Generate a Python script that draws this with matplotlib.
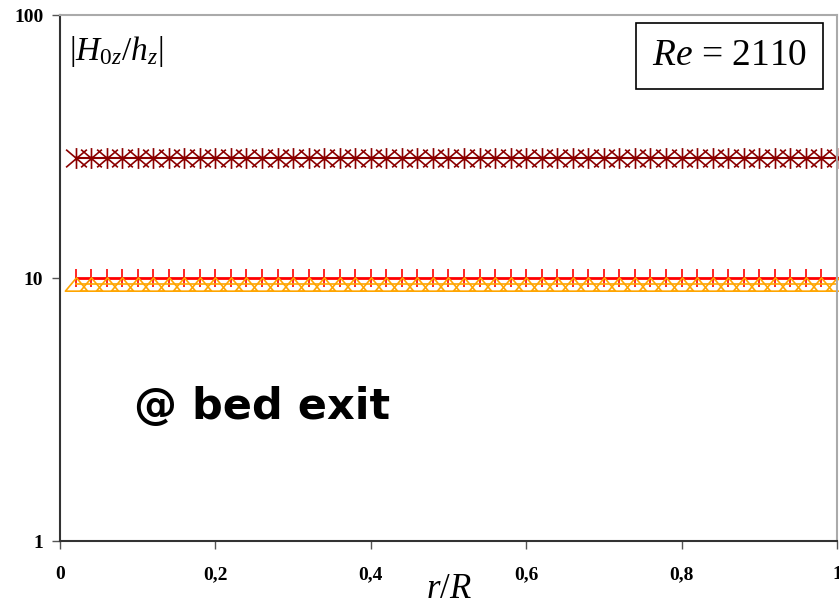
import numpy as np
import matplotlib
matplotlib.use("Agg")
import matplotlib.pyplot as plt
from matplotlib.path import Path

plt.rcParams['mathtext.fontset'] = 'custom'
plt.rcParams['mathtext.rm'] = 'Liberation Serif'
plt.rcParams['mathtext.it'] = 'Liberation Serif:italic'
plt.rcParams['mathtext.bf'] = 'Liberation Serif:bold'

# radial positions r/R
r = [round(0.02 * i, 2) for i in range(1, 51)]
# amplitude ratios |H0z/hz| for the three cases
star_vals = [28.7] * 50
plus_vals = [10.0] * 50
tri_vals = [9.5] * 50

x_ticks = [0, 0.2, 0.4, 0.6, 0.8, 1.0]
x_tick_labels = ['0', '0,2', '0,4', '0,6', '0,8', '1']
y_ticks = [1, 10, 100]
y_tick_labels = ['1', '10', '100']

# asterisk marker: a cross with a vertical bar
star = Path([(-1, -0.85), (1, 0.85), (-1, 0.85), (1, -0.85), (0, -1), (0, 1)],
            [Path.MOVETO, Path.LINETO, Path.MOVETO, Path.LINETO, Path.MOVETO, Path.LINETO])
# wide open triangle
tri = Path([(-1, -0.6), (1, -0.6), (0, 0.6), (-1, -0.6)],
           [Path.MOVETO, Path.LINETO, Path.LINETO, Path.CLOSEPOLY])

fig = plt.figure(figsize=(8.39, 6.04), dpi=100)
ax = fig.add_axes([0.0715, 0.1043, 0.926, 0.8707])

ax.plot(r, star_vals, color='#8B0000', lw=1.5, marker=star, ms=15, mew=1.2, clip_on=False)
ax.plot(r, plus_vals, color='#FF0000', lw=2, marker='|', ms=13, mew=1.2, clip_on=False)
ax.plot(r, tri_vals, color='#FFA500', lw=1.2, marker=tri, ms=16, mfc='none', mec='#FFA500', mew=1.2, clip_on=False)

ax.set_yscale('log')
ax.set_xlim(0, 1)
ax.set_ylim(1, 100)
ax.set_xticks(x_ticks)
ax.set_xticklabels(x_tick_labels)
ax.set_yticks(y_ticks)
ax.set_yticklabels(y_tick_labels)
ax.yaxis.set_minor_locator(matplotlib.ticker.NullLocator())
for lab in ax.get_xticklabels() + ax.get_yticklabels():
    lab.set_fontfamily('Liberation Serif')
    lab.set_fontweight('bold')
    lab.set_fontsize(14)
ax.tick_params(axis='x', direction='out', length=6, width=1, pad=12, color='#555555')
ax.tick_params(axis='y', direction='out', length=6, width=1, pad=6, color='#555555')

for s in ['left', 'bottom']:
    ax.spines[s].set_color('#333333')
    ax.spines[s].set_linewidth(1.5)
for s in ['top', 'right']:
    ax.spines[s].set_color('#AAAAAA')
    ax.spines[s].set_linewidth(1.5)

ax.set_xlabel(r'$r/R$', fontsize=25, labelpad=-9)
ax.text(0.012, 0.93, r'$\mathrm{|}H_{\mathrm{0}z}/h_z\mathrm{|}$', transform=ax.transAxes,
        fontsize=24, ha='left', va='center')
ax.text(0.862, 0.922, r'$Re$ = 2110', transform=ax.transAxes, fontsize=27,
        fontfamily='Liberation Serif', ha='center', va='center',
        bbox=dict(boxstyle='square,pad=0.42', fc='white', ec='black', lw=1.2))
ax.text(0.095, 0.255, '@ bed exit', transform=ax.transAxes, fontsize=31,
        fontfamily='DejaVu Sans', fontweight='bold', ha='left', va='center')

fig.savefig('out.png', dpi=100)
